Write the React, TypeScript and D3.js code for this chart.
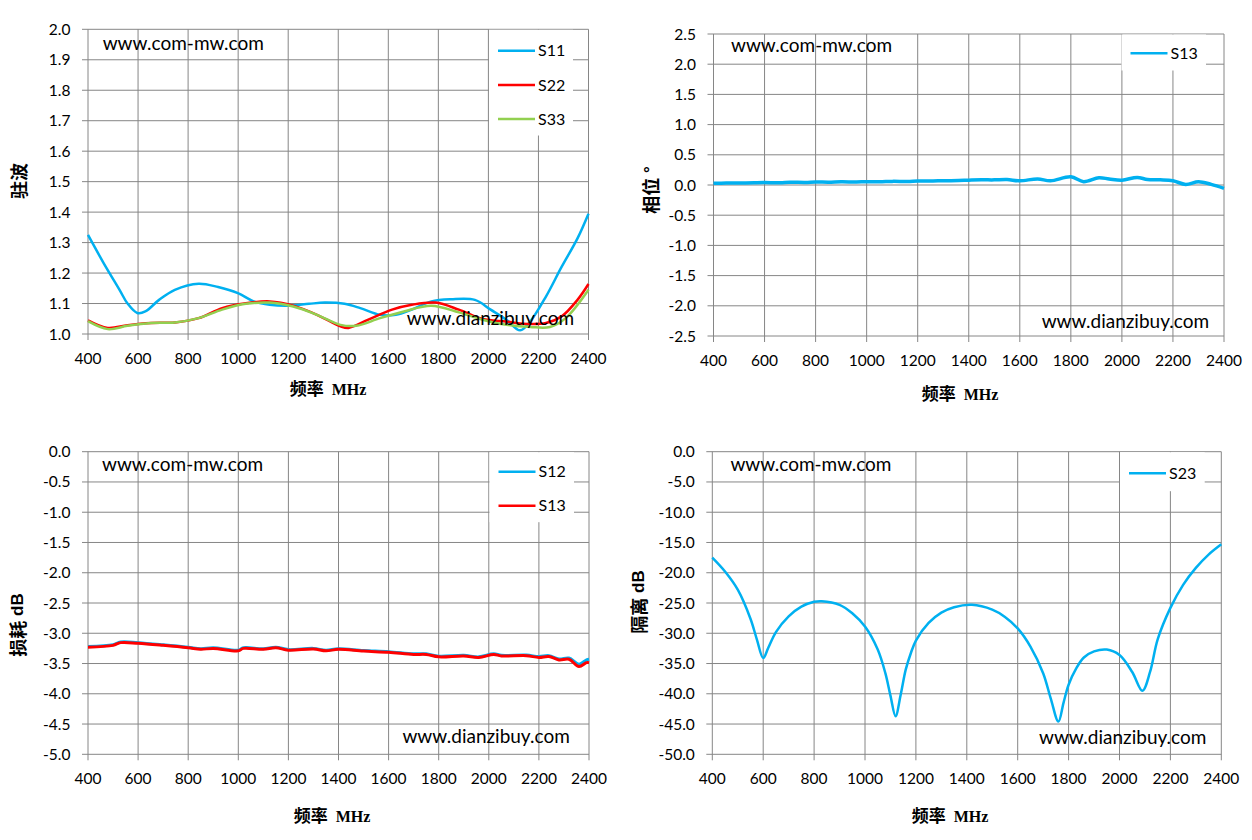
import React from 'react';
import * as d3 from 'd3';

// x axis (MHz) shared by all four charts
const freqTicks = [400, 600, 800, 1000, 1200, 1400, 1600, 1800, 2000, 2200, 2400];

// 驻波 chart
const vswrTicks = [1.0, 1.1, 1.2, 1.3, 1.4, 1.5, 1.6, 1.7, 1.8, 1.9, 2.0];
const s11Freq = [400, 463, 526, 558, 597, 629, 684, 747, 842, 920, 999, 1062, 1126, 1204, 1283, 1346, 1425, 1488, 1567, 1630, 1694, 1772, 1851, 1946, 2009, 2072, 2127, 2167, 2230, 2293, 2356, 2400];
const s11Vswr = [1.325, 1.232, 1.145, 1.1, 1.069, 1.074, 1.112, 1.145, 1.165, 1.154, 1.134, 1.107, 1.096, 1.093, 1.099, 1.103, 1.099, 1.085, 1.063, 1.063, 1.08, 1.107, 1.114, 1.112, 1.08, 1.047, 1.012, 1.041, 1.123, 1.221, 1.314, 1.395];
const s22Freq = [400, 479, 558, 652, 747, 842, 936, 1031, 1126, 1220, 1315, 1409, 1441, 1520, 1615, 1694, 1788, 1882, 1977, 2072, 2135, 2230, 2293, 2356, 2400];
const s22Vswr = [1.045, 1.02, 1.029, 1.036, 1.038, 1.052, 1.085, 1.101, 1.107, 1.093, 1.063, 1.025, 1.02, 1.047, 1.08, 1.096, 1.103, 1.08, 1.049, 1.041, 1.034, 1.036, 1.058, 1.112, 1.164];
const s33Freq = [400, 479, 558, 652, 747, 842, 936, 1031, 1126, 1220, 1315, 1409, 1472, 1567, 1662, 1772, 1882, 1977, 2072, 2167, 2246, 2309, 2400];
const s33Vswr = [1.042, 1.016, 1.027, 1.036, 1.038, 1.052, 1.08, 1.099, 1.103, 1.09, 1.063, 1.03, 1.027, 1.052, 1.074, 1.093, 1.071, 1.047, 1.03, 1.023, 1.023, 1.052, 1.145];

// 相位 chart
const phaseTicks = [-2.5, -2.0, -1.5, -1.0, -0.5, 0.0, 0.5, 1.0, 1.5, 2.0, 2.5];
const phaseFreq = [400, 450, 500, 560, 600, 660, 700, 760, 800, 850, 900, 960, 1000, 1050, 1100, 1160, 1200, 1260, 1300, 1360, 1400, 1450, 1500, 1550, 1600, 1670, 1720, 1800, 1850, 1910, 1950, 2000, 2060, 2100, 2150, 2200, 2250, 2300, 2350, 2400];
const phaseS13 = [0.027, 0.032, 0.033, 0.038, 0.04, 0.036, 0.045, 0.042, 0.05, 0.046, 0.052, 0.05, 0.055, 0.052, 0.06, 0.058, 0.065, 0.068, 0.07, 0.075, 0.08, 0.085, 0.085, 0.09, 0.07, 0.1, 0.07, 0.135, 0.055, 0.12, 0.1, 0.08, 0.125, 0.09, 0.085, 0.07, 0.01, 0.055, 0.01, -0.055];

// 损耗 chart
const lossTicks = [-5.0, -4.5, -4.0, -3.5, -3.0, -2.5, -2.0, -1.5, -1.0, -0.5, 0.0];
const lossFreq = [400, 500, 530, 600, 700, 800, 850, 900, 1000, 1020, 1100, 1150, 1200, 1300, 1350, 1400, 1500, 1600, 1700, 1750, 1800, 1900, 1960, 2020, 2050, 2150, 2200, 2240, 2280, 2320, 2360, 2390, 2400];
const lossS12 = [-3.22, -3.19, -3.145, -3.156, -3.19, -3.23, -3.255, -3.24, -3.28, -3.24, -3.255, -3.23, -3.27, -3.25, -3.28, -3.255, -3.285, -3.305, -3.34, -3.34, -3.38, -3.365, -3.39, -3.34, -3.365, -3.36, -3.385, -3.37, -3.425, -3.41, -3.51, -3.44, -3.43];
const lossS13 = [-3.23, -3.2, -3.155, -3.166, -3.2, -3.24, -3.265, -3.25, -3.29, -3.25, -3.265, -3.24, -3.28, -3.26, -3.29, -3.265, -3.295, -3.315, -3.35, -3.35, -3.39, -3.375, -3.4, -3.35, -3.375, -3.37, -3.4, -3.385, -3.44, -3.43, -3.55, -3.485, -3.485];

// 隔离 chart
const isoTicks = [-50, -45, -40, -35, -30, -25, -20, -15, -10, -5, 0];
const isoFreq = [400, 450, 500, 550, 575, 600, 620, 650, 700, 750, 800, 830, 900, 950, 1000, 1050, 1080, 1100, 1120, 1140, 1160, 1180, 1200, 1250, 1300, 1350, 1420, 1500, 1550, 1600, 1650, 1700, 1730, 1760, 1780, 1800, 1830, 1860, 1900, 1950, 2000, 2050, 2090, 2120, 2150, 2200, 2250, 2300, 2350, 2400];
const isoS23 = [-17.5, -19.8, -22.8, -27.6, -31.0, -34.1, -32.4, -29.8, -27.2, -25.6, -24.8, -24.7, -25.3, -26.7, -28.9, -32.7, -36.6, -40.3, -43.7, -40.2, -36.0, -33.3, -31.2, -28.3, -26.6, -25.7, -25.3, -26.1, -27.3, -29.2, -32.2, -36.6, -40.8, -44.6, -41.5, -38.5, -35.8, -34.0, -33.0, -32.7, -33.6, -36.4, -39.5, -36.4, -31.0, -25.8, -22.0, -19.2, -17.0, -15.3];

const BLUE = '#00b0f0';
const RED = '#ff0000';
const GREEN = '#92d050';
const GRID = '#868686';
const TICK_FONT = 'Lato, "Open Sans", sans-serif';
const CJK_FONT = '"Noto Sans CJK SC", sans-serif';

type Series = { name: string; color: string; freq: number[]; values: number[]; width: number };

type PanelProps = {
  left: number; right: number; top: number; bottom: number;
  yTicks: number[]; digits: number;
  series: Series[];
  legend: { x0: number; x1: number; y1: number; rows: number[] };
  yTitle: string; yUnit?: string; yTitleX: number; yTitleY: number;
  xTitleX: number; xTitleY: number;
  webTop: [number, number]; webBottom: [number, number];
};

const Panel: React.FC<PanelProps> = (p) => {
  const x = d3.scaleLinear().domain([400, 2400]).range([p.left, p.right]);
  const y = d3.scaleLinear().domain(d3.extent(p.yTicks) as [number, number]).range([p.bottom, p.top]);
  const line = d3.line<[number, number]>()
    .x(d => x(d[0]))
    .y(d => y(d[1]))
    .curve(d3.curveCatmullRom.alpha(0.5));

  return (
    <g>
      {p.yTicks.map(t => (
        <g key={'y' + t}>
          <line x1={p.left - 6} x2={p.right} y1={y(t)} y2={y(t)} stroke={GRID} strokeWidth={1} />
          <text x={p.left - 17.5} y={y(t) + 5.5} textAnchor="end" fontSize={15.5} fontFamily={TICK_FONT}>
            {t.toFixed(p.digits)}
          </text>
        </g>
      ))}
      {freqTicks.map(t => (
        <g key={'x' + t}>
          <line x1={x(t)} x2={x(t)} y1={p.top} y2={p.bottom + 6} stroke={GRID} strokeWidth={1} />
          <text x={x(t)} y={p.bottom + 30} textAnchor="middle" fontSize={15.5} fontFamily={TICK_FONT}>
            {t}
          </text>
        </g>
      ))}
      {p.series.map(s => (
        <path key={s.name} d={line(s.freq.map((f, i) => [f, s.values[i]] as [number, number])) || ''}
          fill="none" stroke={s.color} strokeWidth={s.width} strokeLinejoin="round" />
      ))}
      {/* legend */}
      <rect x={p.legend.x0} y={p.top + 0.5} width={p.legend.x1 - p.legend.x0} height={p.legend.y1 - p.top} fill="#fff" />
      {p.series.map((s, i) => (
        <g key={'lg' + s.name}>
          <line x1={p.legend.x0 + 9} x2={p.legend.x0 + 46} y1={p.legend.rows[i]} y2={p.legend.rows[i]} stroke={s.color} strokeWidth={2.5} />
          <text x={p.legend.x0 + 49} y={p.legend.rows[i] + 5.6} fontSize={16} fontFamily={TICK_FONT}>{s.name}</text>
        </g>
      ))}
      <text x={p.webTop[0]} y={p.webTop[1]} fontSize={19} fontFamily={TICK_FONT}>www.com-mw.com</text>
      <text x={p.webBottom[0]} y={p.webBottom[1]} fontSize={19} fontFamily={TICK_FONT}>www.dianzibuy.com</text>
      <text transform={`translate(${p.yTitleX},${p.yTitleY}) rotate(-90)`} textAnchor="middle" dominantBaseline="central"
        fontSize={18} fontWeight={700} fontFamily={CJK_FONT}>
        {p.yTitle}
        {p.yUnit && <tspan fontFamily='"Liberation Sans", Arial, sans-serif' fontSize={17}>{' ' + p.yUnit}</tspan>}
      </text>
      <text x={p.xTitleX} y={p.xTitleY} textAnchor="middle" fontSize={17} fontWeight={700} fontFamily={CJK_FONT}>
        频率
        <tspan dx={8} fontFamily='"Liberation Serif", serif' fontSize={16}>MHz</tspan>
      </text>
    </g>
  );
};

const App: React.FC = () => (
  <svg width={1252} height={840} style={{ position: 'absolute', left: 0, top: 0, background: '#fff' }}>
    <rect width={1252} height={840} fill="#fff" />
    <Panel left={88} right={588.5} top={29.3} bottom={334} yTicks={vswrTicks} digits={1}
      series={[
        { name: 'S11', color: BLUE, freq: s11Freq, values: s11Vswr, width: 2.5 },
        { name: 'S22', color: RED, freq: s22Freq, values: s22Vswr, width: 2.5 },
        { name: 'S33', color: GREEN, freq: s33Freq, values: s33Vswr, width: 2.5 },
      ]}
      legend={{ x0: 489, x1: 573, y1: 135, rows: [50.7, 85, 119] }}
      yTitle="驻波" yTitleX={18} yTitleY={181}
      xTitleX={328} xTitleY={395}
      webTop={[102.7, 50]} webBottom={[406.7, 325]} />
    <Panel left={713.5} right={1224} top={34} bottom={336} yTicks={phaseTicks} digits={1}
      series={[{ name: 'S13', color: BLUE, freq: phaseFreq, values: phaseS13, width: 3.5 }]}
      legend={{ x0: 1121.5, x1: 1206, y1: 70, rows: [53.3] }}
      yTitle="相位" yUnit="°" yTitleX={650} yTitleY={190}
      xTitleX={960} xTitleY={400}
      webTop={[731, 52.3]} webBottom={[1041.7, 328]} />
    <Panel left={88} right={589} top={451.7} bottom={754.3} yTicks={lossTicks} digits={1}
      series={[
        { name: 'S12', color: BLUE, freq: lossFreq, values: lossS12, width: 3 },
        { name: 'S13', color: RED, freq: lossFreq, values: lossS13, width: 3 },
      ]}
      legend={{ x0: 489.5, x1: 574, y1: 521.7, rows: [471.7, 505.7] }}
      yTitle="损耗" yUnit="dB" yTitleX={17} yTitleY={625}
      xTitleX={332} xTitleY={822}
      webTop={[102, 470.7]} webBottom={[402.4, 743]} />
    <Panel left={712.3} right={1221.3} top={451.7} bottom={754.3} yTicks={isoTicks} digits={1}
      series={[{ name: 'S23', color: BLUE, freq: isoFreq, values: isoS23, width: 2.5 }]}
      legend={{ x0: 1120, x1: 1204.7, y1: 490.7, rows: [473.3] }}
      yTitle="隔离" yUnit="dB" yTitleX={638} yTitleY={602}
      xTitleX={950} xTitleY={822}
      webTop={[730.4, 470.7]} webBottom={[1039, 744]} />
  </svg>
);

export default App;
